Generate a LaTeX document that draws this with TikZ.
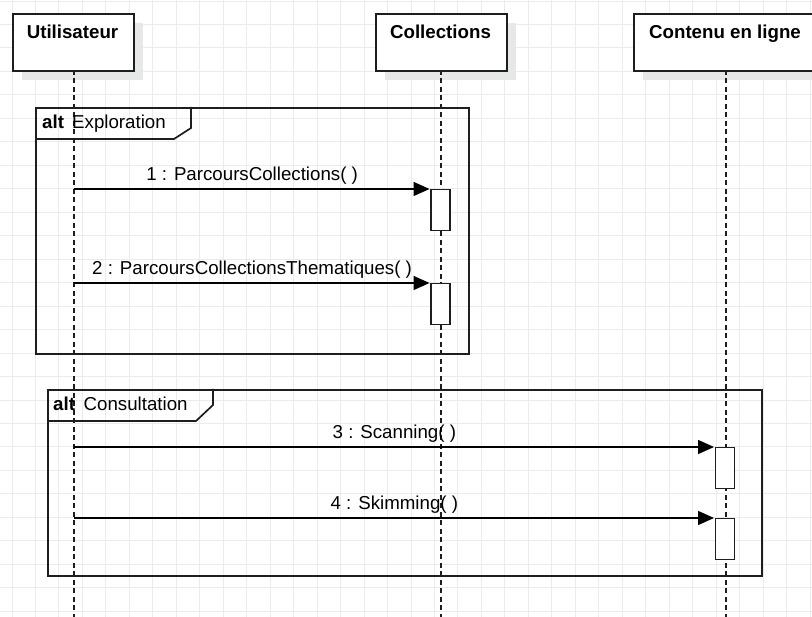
\documentclass[tikz,border=0pt]{standalone}
\usepackage{fontspec}
\setmainfont{Liberation Sans}
\usetikzlibrary{arrows.meta}
\definecolor{gridc}{HTML}{EBEBEB}
\definecolor{shadowc}{HTML}{E6E8E8}
\definecolor{linec}{HTML}{1E1E1E}
\tikzset{
  gridline/.style={draw=gridc, line width=0.9pt},
  shadowbox/.style={fill=shadowc, draw=none},
  actorbox/.style={draw=linec, line width=1.8pt, fill=white, inner sep=0pt, anchor=north west},
  actortext/.style={font=\fontsize{18.7}{22}\selectfont\bfseries, anchor=base, inner sep=0pt},
  lifeline/.style={draw=linec, line width=1.5pt, dash pattern=on 5pt off 3.5pt},
  activation/.style={draw=linec, line width=1.5pt, fill=white, minimum width=19pt, minimum height=41pt, inner sep=0pt, anchor=north},
  msg/.style={draw=black, line width=1.3pt, -{Triangle[length=16pt,width=14pt]}, shorten >=0.7pt},
  msglabel/.style={font=\fontsize{18.7}{22}\selectfont, anchor=base, inner sep=0pt, yshift=8pt},
  framebox/.style={draw=linec, line width=1.7pt, inner sep=0pt, anchor=north west},
  framehead/.style={draw=linec, line width=1.7pt},
  altkw/.style={font=\fontsize{18.7}{22}\selectfont\bfseries, anchor=base west, inner sep=0pt},
  alttext/.style={font=\fontsize{18.7}{22}\selectfont, anchor=base west, inner sep=0pt},
}
\begin{document}
\begin{tikzpicture}[x=1pt, y=-1pt]
\useasboundingbox (0,0) rectangle (812,617);
\clip (0,0) rectangle (812,617);
\fill[white] (0,0) rectangle (812,617);
% grid
\foreach \i in {0,...,34} {\draw[gridline] ({12+23.47*\i},0) -- ({12+23.47*\i},617);}
\foreach \j in {0,...,26} {\draw[gridline] (0,{1+23.47*\j}) -- (812,{1+23.47*\j});}

% shadows
\fill[shadowbox] (22,23) rectangle (143,80);
\fill[shadowbox] (385,23) rectangle (516,80);
\fill[shadowbox] (643,23) rectangle (830,80);

% lifelines
\coordinate (uend) at (74,617);
\coordinate (cend) at (441,617);
\coordinate (lend) at (726,617);
\coordinate (utop) at (74,70);
\coordinate (ctop) at (441,70);
\coordinate (ltop) at (726,70);
\draw[lifeline] (utop) -- (uend);
\draw[lifeline] (ctop) -- (cend);
\draw[lifeline] (ltop) -- (lend);

% actor boxes
\node[actorbox, minimum width=121pt, minimum height=57pt] (u) at (12,13) {};
\node[actortext] (ut) at (72.5,38.5) {Utilisateur};
\node[actorbox, minimum width=131pt, minimum height=57pt] (c) at (375,13) {};
\node[actortext] (ct) at (440.5,38.5) {Collections};
\node[actorbox, minimum width=187pt, minimum height=57pt] (l) at (633,13) {};
\node[actortext] (lt) at (725,38.5) {Contenu en ligne};

% frame 1
\node[framebox, minimum width=433pt, minimum height=246pt] (f1) at (35,107) {};
\coordinate (f1a) at (35,139);
\coordinate (f1b) at (174,139);
\coordinate (f1c) at (191,128);
\coordinate (f1d) at (191,107);
\draw[framehead] (f1a) -- (f1b) -- (f1c) -- (f1d);
\node[altkw] (f1k) at (42,128.5) {alt};
\node[alttext] (f1t) at (72,128.5) {Exploration};

% frame 2
\node[framebox, minimum width=714pt, minimum height=186pt] (f2) at (47,389) {};
\coordinate (f2a) at (47,421);
\coordinate (f2b) at (196,421);
\coordinate (f2c) at (213,405);
\coordinate (f2d) at (213,389);
\draw[framehead] (f2a) -- (f2b) -- (f2c) -- (f2d);
\node[altkw] (f2k) at (53,410.5) {alt};
\node[alttext] (f2t) at (83.5,410.5) {Consultation};

% activations
\node[activation] (a1) at (440.5,189) {};
\node[activation] (a2) at (440.5,283) {};
\node[activation] (a3) at (725,447) {};
\node[activation] (a4) at (725,518) {};

% messages
\coordinate (s1) at (74,189);
\coordinate (s2) at (74,283);
\coordinate (s3) at (74,447);
\coordinate (s4) at (74,518);
\draw[msg] (s1) -- node[msglabel] (m1) {1 : ParcoursCollections( )} (a1.north west);
\draw[msg] (s2) -- node[msglabel] (m2) {2 : ParcoursCollectionsThematiques( )} (a2.north west);
\draw[msg] (s3) -- node[msglabel] (m3) {3 : Scanning( )} (a3.north west);
\draw[msg] (s4) -- node[msglabel] (m4) {4 : Skimming( )} (a4.north west);
\end{tikzpicture}
\end{document}
